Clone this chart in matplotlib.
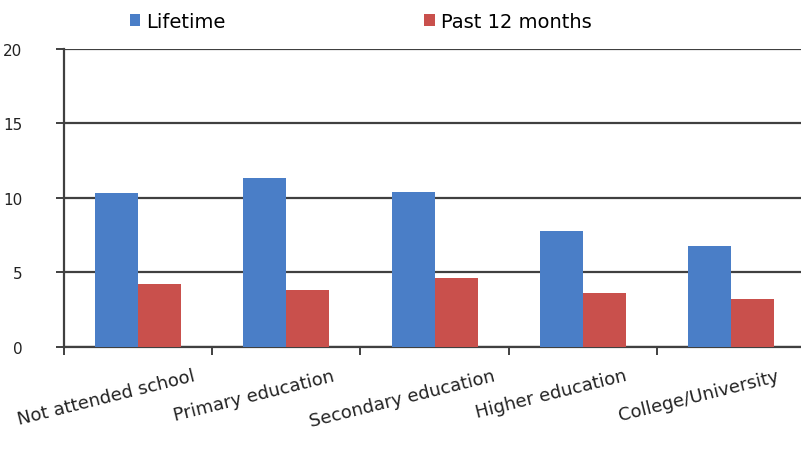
import numpy as np
import matplotlib
matplotlib.use("Agg")
import matplotlib.pyplot as plt
import matplotlib.transforms as mtransforms

# Data
categories = ["Not attended school", "Primary education", "Secondary education",
              "Higher education", "College/University"]
lifetime = [10.3, 11.3, 10.4, 7.8, 6.8]
past12 = [4.2, 3.8, 4.6, 3.6, 3.2]
series_names = ["Lifetime", "Past 12 months"]
colors = ["#4A7EC7", "#C9504C"]

plt.rcParams['font.family'] = ['DejaVu Sans']

fig = plt.figure(figsize=(8.01, 4.52), dpi=100)
ax = fig.add_axes([0.08, 0.23, 0.925, 0.66])

x = np.arange(len(categories))
w = 0.29
ax.bar(x - w / 2, lifetime, w, color=colors[0], label=series_names[0], zorder=3)
ax.bar(x + w / 2, past12, w, color=colors[1], label=series_names[1], zorder=3)

ax.set_xlim(-0.5, len(categories) - 0.5)
ax.set_ylim(0, 20)
ax.set_yticks([0, 5, 10, 15, 20])
ax.yaxis.grid(True, color="#404040", linewidth=1.6, zorder=0)
ax.set_axisbelow(True)

for s in ["top", "right"]:
    ax.spines[s].set_visible(False)
for s in ["left", "bottom"]:
    ax.spines[s].set_color("#404040")
    ax.spines[s].set_linewidth(1.6)

ax.tick_params(axis="y", length=6, width=1.4, color="#404040", labelsize=11,
               labelcolor="#222222", pad=24)

# category boundaries as ticks, labels at centres
ax.set_xticks(np.arange(len(categories) + 1) - 0.5)
ax.set_xticklabels([])
ax.tick_params(axis="x", length=6, width=1.4, color="#404040")
ax.set_xticks(x, minor=True)
ax.set_xticklabels(categories, minor=True, rotation=14, ha="center",
                   fontsize=13, color="#222222")
ax.tick_params(axis="x", which="minor", length=0, pad=14)
offset = mtransforms.ScaledTranslation(-0.32, 0, fig.dpi_scale_trans)
for lab in ax.get_xticklabels(minor=True):
    lab.set_transform(lab.get_transform() + offset)

ax.legend(loc="lower left", bbox_to_anchor=(0.065, 1.0), ncol=2, frameon=False,
          fontsize=14, handlelength=0.55, handleheight=0.55, columnspacing=10.2,
          handletextpad=0.3)

fig.savefig("out.png", dpi=100)
